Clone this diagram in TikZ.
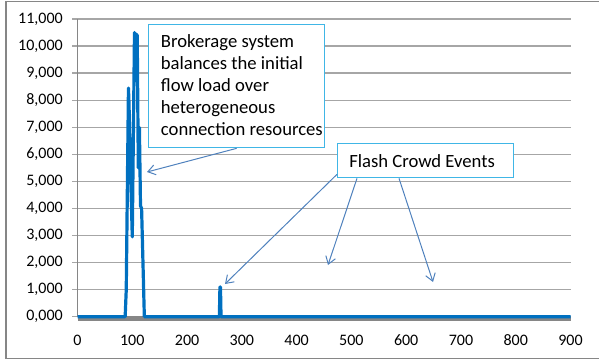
\documentclass[tikz,border=0pt]{standalone}
\usepackage{fontspec}
\setmainfont{Carlito}
\usetikzlibrary{positioning}
\usetikzlibrary{arrows.meta}
\definecolor{seriesblue}{RGB}{0,112,192}
\definecolor{noteborder}{RGB}{64,182,230}
\definecolor{notearrowblue}{RGB}{79,129,189}
\definecolor{gridgray}{RGB}{166,166,166}
\definecolor{axisgray}{RGB}{134,134,134}
\begin{document}
\begin{tikzpicture}
			[
				x = 0.75pt, y = -0.75pt,
				notebox/.style = {draw = noteborder, line width = 1pt, fill = white, rectangle, inner sep = 0pt, anchor = north west},
				notetext/.style = {inner sep = 0pt, align = left, font = \fontsize{14}{16.5}\selectfont},
				notearrow/.style = {draw = notearrowblue, line width = 0.75pt, -{Straight Barb[length = 5.5pt, width = 7.5pt]}},
				gridline/.style = {draw = gridgray, line width = 1pt},
				ylabel/.style = {anchor = east, inner sep = 0pt, font = \fontsize{12}{14}\selectfont},
				xlabel/.style = {inner sep = 0pt, font = \fontsize{12}{14}\selectfont},
				dataline/.style = {draw = seriesblue, line width = 2.4pt, line join = round}
			]
			%
			\useasboundingbox (0,0) rectangle (599,360);
			\draw [axisgray, line width = 1pt] (599,1.5) -| (6,358.7) -- (599,358.7);
			%
			\begin{scope}[shift = {(77.5,316.7)}, xscale = 0.5478, yscale = -27.06]
				\foreach \k in {0,...,11}
				{
					\draw [gridline] (-10,\k) -- (900,\k);
					\node (ytick\k) [ylabel] at (-26.5,\k) {\k,000};
				}
				\foreach \v in {0,100,...,900}
					\node (xtick\v) [xlabel] at (\v,-0.86) {\v};
				%
				\draw [axisgray, line width = 1pt] (0,0) -- (0,11);
				\draw [axisgray, line width = 3.5pt] (0,-0.07) -- (900,-0.07);
				%
				\draw [dataline] (0,0) -- (87,0) -- (89,1) -- (93,8.45) -- (94,7.9) -- (96,6) -- (100,2.95)
					-- (104,10.5) -- (105,9) -- (106,10.45) -- (109,10.4) -- (111,5.5) -- (113,7)
					-- (115,4.1) -- (117,4) -- (122,0) -- (259,0) -- (260,1.1) -- (261,1.1) -- (262,0) -- (900,0);
			\end{scope}
			%
			\node (brokernote) [notebox, minimum width = 132pt, minimum height = 92.25pt] at (148,24) {};
			\node (brokertext) [notetext, anchor = north west, below right = 8pt and 9.5pt of brokernote.north west]
				{Brokerage system\\balances the initial\\flow load over\\heterogeneous\\connection resources};
			%
			\node (flashnote) [notebox, minimum width = 132pt, minimum height = 25.5pt] at (337,143) {};
			\node (flashtext) [notetext, anchor = west, right = 9pt of flashnote.west] {Flash Crowd Events};
			%
			\coordinate (peaktip) at (147,172);
			\coordinate (spiketip) at (225,284);
			\coordinate (midtip) at (328,265);
			\coordinate (righttip) at (433,282);
			%
			\draw [notearrow] (brokernote.south) -- (peaktip);
			\draw [notearrow] ([yshift = 3pt]flashnote.south west) -- (spiketip);
			\draw [notearrow] ([xshift = 15pt]flashnote.south west) -- (midtip);
			\draw [notearrow] ([xshift = 46.5pt]flashnote.south west) -- (righttip);
			%
\end{tikzpicture}
\end{document}
